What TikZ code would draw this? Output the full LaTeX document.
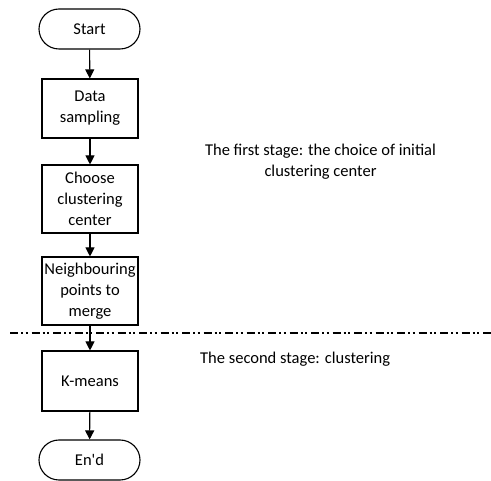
\documentclass[tikz,border=0pt]{standalone}
\usepackage{fontspec}
\setmainfont{Carlito}
\usetikzlibrary{arrows.meta,shapes.misc}
\begin{document}
\begin{tikzpicture}[x=1pt,y=-1pt,
  every node/.style={font=\fontsize{16.5}{21}\selectfont, align=center, inner sep=0pt},
  terminal/.style={draw, line width=1.1pt, rounded rectangle, minimum width=101pt, minimum height=40pt},
  procbox/.style={draw, line width=1.1pt, rectangle, minimum width=96pt},
  flow/.style={line width=1.1pt, -{Triangle[length=9pt,width=9pt]}},
  stageline/.style={line width=1.1pt, dash pattern=on 8pt off 3pt on 2pt off 2.5pt on 2pt off 4pt}]
\useasboundingbox (0,0) rectangle (491,481);
% flow chart
\node[terminal] (start) at (89.5,29) {Start};
\node[procbox, minimum height=59pt] (sample) at (90,108.5) {Data\\sampling};
\node[procbox, minimum height=68pt] (choose) at (90,199) {Choose\\clustering\\center};
\node[procbox, minimum height=68pt] (merge) at (90,291) {Neighbouring\\points to\\merge};
\node[procbox, minimum height=60pt] (kmeans) at (90,381) {K-means};
\node[terminal] (finish) at (89.5,460) {En\textquotesingle d};
\draw[flow] (start) -- (sample);
\draw[flow] (sample) -- (choose);
\draw[flow] (choose) -- (merge);
\draw[flow] (merge) -- (kmeans);
\draw[flow] (kmeans) -- (finish);
% stage separator
\coordinate (sepL) at (10,333);
\coordinate (sepR) at (491,333);
\draw[stageline] (sepL) -- (sepR);
% stage labels
\node (stage1) at (320.5,162) {The first stage: the choice of initial\\clustering center};
\node[anchor=west] (stage2) at (200,359) {The second stage: clustering};
\end{tikzpicture}
\end{document}
